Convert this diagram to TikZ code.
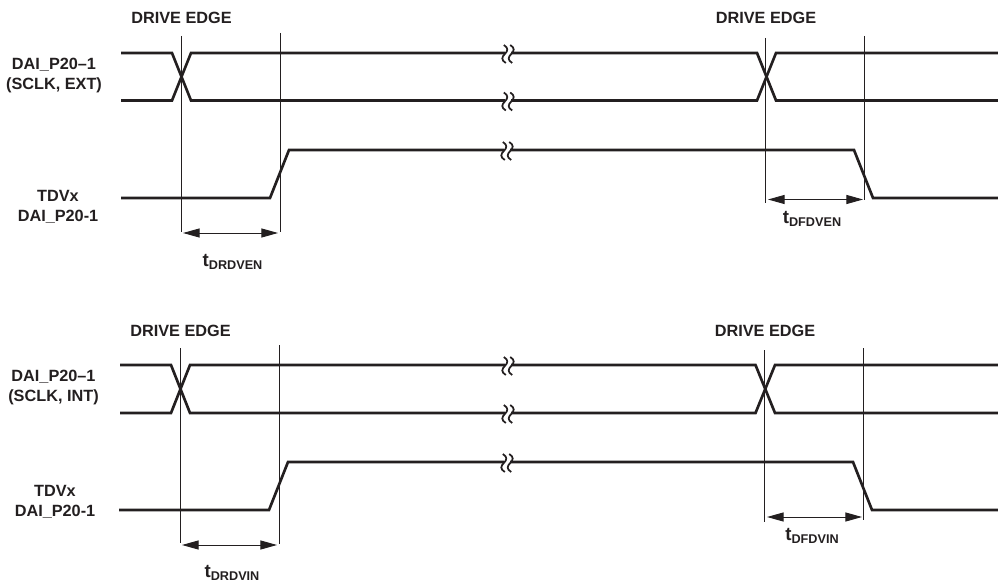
\documentclass[tikz,border=0pt]{standalone}
\usepackage{fontspec}
\setmainfont{Liberation Sans}
\usepackage{tikz}
\usetikzlibrary{arrows.meta}
\definecolor{inkdark}{HTML}{231F20}
\newcommand{\tsub}[1]{{\fontsize{14}{15}\selectfont t}\raisebox{-2.8pt}{\fontsize{9.5}{11}\selectfont #1}}
\tikzset{
  label/.style={text=inkdark,font=\fontsize{12.2}{15}\selectfont\bfseries,align=center,inner sep=0pt},
  signal/.style={draw=inkdark,line width=2pt,line join=miter},
  guide/.style={draw=inkdark,line width=0.6pt},
  span/.style={draw=inkdark,line width=0.7pt,{Triangle[length=12.5pt,width=6.8pt,inset=0pt]}-{Triangle[length=12.5pt,width=6.8pt,inset=0pt]}},
  pics/breakmark/.style={code={
    \fill[white] (-3,-8) rectangle (3,8);
    \foreach \dx in {-3.2,3.2}
      \draw[inkdark,line width=1.3pt,shift={(\dx,0)}]
        (-1,-9) .. controls (4,-6) and (3,-3) .. (0,0) .. controls (-3,3) and (-4,6) .. (1,9);
  }}
}
\begin{document}
\begin{tikzpicture}[x=0.75pt,y=-0.75pt]
    \useasboundingbox (0,0) rectangle (998,584);

    % upper panel, traces
    \draw[signal] (121,53) -- (172,53) -- (191,100.5) -- (757,100.5) -- (776,53) -- (998,53);
    \draw[signal] (121,100.5) -- (172,100.5) -- (191,53) -- (757,53) -- (776,100.5) -- (998,100.5);
    \draw[signal] (121,198) -- (270,198) -- (289,150) -- (854,150) -- (873,198) -- (998,198);
    % upper panel, guides
    \coordinate (A1) at (181.5,36);  \coordinate (A2) at (181.5,232);
    \coordinate (B1) at (280,33);    \coordinate (B2) at (280,232);
    \coordinate (C1) at (765.5,38);  \coordinate (C2) at (765.5,203);
    \coordinate (D1) at (864.5,36);  \coordinate (D2) at (864.5,200);
    \coordinate (E1) at (183,233);   \coordinate (E2) at (278,233);
    \coordinate (F1) at (768,199.5); \coordinate (F2) at (863,199.5);
    \path[guide]
    (A1) edge (A2)
    (B1) edge (B2)
    (C1) edge (C2)
    (D1) edge (D2);
    \draw[span] (E1) -- (E2);
    \draw[span] (F1) -- (F2);

    % lower panel, traces
    \draw[signal] (120,365) -- (171,365) -- (190,413) -- (755.5,413) -- (775,365) -- (998,365);
    \draw[signal] (120,413) -- (171,413) -- (190,365) -- (755.5,365) -- (775,413) -- (998,413);
    \draw[signal] (119,510) -- (269,510) -- (288,462) -- (853,462) -- (872,510) -- (998,510);
    % lower panel, guides
    \coordinate (G1) at (180.5,348); \coordinate (G2) at (180.5,543);
    \coordinate (H1) at (279,345);   \coordinate (H2) at (279,544);
    \coordinate (I1) at (764.5,350); \coordinate (I2) at (764.5,522);
    \coordinate (J1) at (863,348);   \coordinate (J2) at (863,520);
    \coordinate (K1) at (182,545);   \coordinate (K2) at (277,545);
    \coordinate (L1) at (767,517);   \coordinate (L2) at (862,517);
    \path[guide]
    (G1) edge (G2)
    (H1) edge (H2)
    (I1) edge (I2)
    (J1) edge (J2);
    \draw[span] (K1) -- (K2);
    \draw[span] (L1) -- (L2);

    % breaks in the traces
    \foreach \bx/\by in {508/54,508/101.5,507/151,508/366,508/414,507/463}
      \pic at (\bx,\by) {breakmark};

    % texts
    \node[label] (edgeA) at (181.5,18) {DRIVE EDGE};
    \node[label] (edgeB) at (766,18)   {DRIVE EDGE};
    \node[label] (edgeC) at (180.5,331) {DRIVE EDGE};
    \node[label] (edgeD) at (765,331)  {DRIVE EDGE};
    \node[label] (sclkA) at (54,76)    {DAI\_P20–1\\(SCLK, EXT)};
    \node[label] (tdvA)  at (58,207)   {TDVx\\DAI\_P20-1};
    \node[label] (sclkB) at (53.5,388) {DAI\_P20–1\\(SCLK, INT)};
    \node[label] (tdvB)  at (55,502)   {TDVx\\DAI\_P20-1};
    \node[label] (riseA) at (232.5,262) {\tsub{DRDVEN}};
    \node[label] (fallA) at (812,219)  {\tsub{DFDVEN}};
    \node[label] (riseB) at (232,573)  {\tsub{DRDVIN}};
    \node[label] (fallB) at (812,536)  {\tsub{DFDVIN}};

  \end{tikzpicture}
\end{document}
